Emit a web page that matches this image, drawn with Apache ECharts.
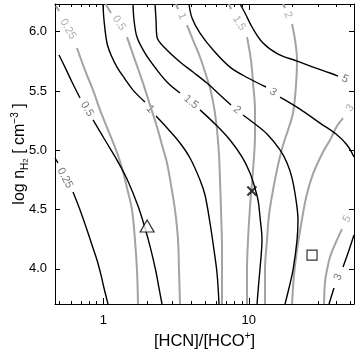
<!DOCTYPE html>
<html><head><meta charset="utf-8">
<script src="https://cdn.jsdelivr.net/npm/echarts@6/dist/echarts.min.js"></script>
<style>html,body{margin:0;padding:0;background:#fff}#c{width:360px;height:360px}</style>
</head><body><div id="c"></div>
<script>
const xRange = [0.4656, 52.84];
const yRange = [3.704, 6.234];
const xMajorTicks = [1, 10];
const xMinorTicks = [0.5,0.6,0.7,0.8,0.9,2,3,4,5,6,7,8,9,20,30,40,50];
const yTicks = [4.0, 4.5, 5.0, 5.5, 6.0];

// black contours (null = gap for label)
const black025 = [[0.466,4.935],[0.488,4.893],null,[0.619,4.648],[0.692,4.497],[0.773,4.328],[0.836,4.202],[0.905,4.075],[0.964,3.949],[1.011,3.839],[1.077,3.704]];
const black05 = [[0.496,5.804],[0.545,5.702],[0.609,5.576],[0.692,5.441],null,[0.850,5.256],[1.027,5.087],[1.242,4.918],[1.455,4.758],[1.732,4.530],[1.934,4.345],[2.127,4.159],[2.303,3.974],[2.414,3.839],[2.532,3.704]];
const black1 = [[0.995,6.234],[1.011,6.099],[1.060,5.905],[1.130,5.804],[1.242,5.702],[1.410,5.601],[1.600,5.508],[1.934,5.407],null,[2.303,5.289],[2.784,5.180],[3.366,5.062],[3.944,4.935],[4.619,4.750],[5.000,4.623],[5.412,4.387],[5.766,4.159],[6.045,3.965],[6.241,3.704]];
const black15 = [[1.600,6.234],[1.626,6.099],[1.704,5.955],[1.934,5.820],[2.340,5.677],[2.784,5.567],[3.366,5.483],null,[4.619,5.341],[5.857,5.222],[7.427,5.087],[8.980,4.944],[10.19,4.809],[10.86,4.707],[11.57,4.581],[11.94,4.437],[12.32,4.244],[12.13,4.100],[11.75,3.906],[11.39,3.704]];
const black2 = [[2.267,6.234],[2.303,6.099],[2.340,5.955],[2.655,5.863],[3.366,5.745],[4.136,5.660],[5.161,5.567],[6.340,5.466],[7.546,5.382],null,[9.123,5.298],[11.03,5.222],[13.34,5.137],[16.39,5.003],[18.31,4.893],[19.82,4.766],[21.11,4.581],[21.78,4.412],[21.45,4.244],[20.13,3.991],[18.89,3.839],[17.74,3.704]];
const black3 = [[3.882,6.234],[4.071,6.116],[4.619,5.989],[5.766,5.837],[7.427,5.702],[9.874,5.610],[13.13,5.534],null,[16.39,5.449],[22.49,5.348],[30.86,5.230],[39.76,5.137],[47.32,5.045],[52.84,4.944]];
const black5 = [[8.699,6.234],[9.417,6.158],[10.52,6.040],[12.52,5.905],[15.88,5.812],[21.45,5.753],[27.63,5.702],[36.15,5.652],[41.03,5.626]];
const black3b = [[52.84,4.286],[48.07,4.134],[44.41,4.016],null,[38.51,3.839],[35.59,3.704]];

// gray contours
const gray025 = [[0.473,6.217],[0.496,6.175],null,[0.659,5.863],[0.748,5.677],[0.850,5.508],[0.949,5.341],[1.077,5.172],[1.223,5.003],[1.345,4.851],[1.455,4.682],[1.575,4.497],[1.651,4.244],[1.704,3.991],[1.732,3.704]];
const gray05 = [[1.035,6.234],[1.130,6.158],null,[1.455,5.955],[1.651,5.761],[1.875,5.567],[2.094,5.382],[2.340,5.197],[2.532,5.045],[2.741,4.893],[2.920,4.707],[3.110,4.497],[3.262,4.244],[3.313,3.991],[3.366,3.704]];
const gray1 = [[3.160,6.234],[3.262,6.191],null,[3.761,6.056],[4.136,5.930],[4.619,5.787],[5.000,5.660],[5.412,5.525],[5.766,5.365],[6.045,5.172],[6.241,4.961],[6.340,4.750],[6.441,4.497],[6.544,4.159],[6.544,3.704]];
const gray15 = [[7.311,6.234],[7.546,6.191],null,[9.719,5.955],[10.35,5.761],[10.69,5.567],[11.03,5.341],[11.03,5.129],[10.69,4.834],[10.19,4.522],[9.874,4.244],[9.719,3.991],[9.719,3.704]];
const gray2 = [[17.19,6.234],[17.74,6.200],null,[19.82,6.065],[20.78,5.930],[21.45,5.761],[21.11,5.551],[20.13,5.315],[18.60,5.172],[17.19,5.045],[15.88,4.876],[14.67,4.665],[13.77,4.455],[13.34,4.244],[12.92,3.991],[12.92,3.704]];
const gray3 = [[44.41,5.272],[40.39,5.205],[36.15,5.087],[32.36,4.986],[27.63,4.801],[24.73,4.598],[22.85,4.370],[21.45,4.159],[20.45,3.949],[19.82,3.704]];
const gray5 = [[43.71,4.336],[39.76,4.227],[36.15,4.100],[34.47,3.991],[33.40,3.890],[32.88,3.704]];

// contour labels: [x, y, text, rotation]
const blackLabels = [[0.545,4.766,'0.25',-62],[0.773,5.348,'0.5',-59],[2.094,5.348,'1',-48],[4.007,5.407,'1.5',-40],[8.296,5.340,'2',-40],[14.67,5.492,'3',-35],[45.84,5.601,'5',-25],[41.03,3.932,'3',68]];
const grayLabels = [[0.572,6.023,'0.25',-60],[1.282,6.073,'0.5',-57],[3.474,6.132,'1',-68],[8.563,6.073,'1.5',-58],[18.60,6.141,'2',-68],[49.61,5.357,'3',55],[47.32,4.421,'5',62]];

// markers
const trianglePt = [[2.0, 4.362]];
const crossPt = [[10.5, 4.657]];
const squarePt = [[27.2, 4.117]];

const FONT = 'Liberation Sans, Arial, Helvetica, sans-serif';
const BLACK = '#000', GRAY = '#a3a3a3';

function segs(arr){const out=[];let cur=[];arr.forEach(p=>{if(p===null){if(cur.length)out.push(cur);cur=[];}else cur.push(p);});if(cur.length)out.push(cur);return out;}

const contours = [
  {d:gray025,c:GRAY,w:2},{d:gray05,c:GRAY,w:2},{d:gray1,c:GRAY,w:2},{d:gray15,c:GRAY,w:2},{d:gray2,c:GRAY,w:2},{d:gray3,c:GRAY,w:2},{d:gray5,c:GRAY,w:2},
  {d:black025,c:BLACK,w:1.4},{d:black05,c:BLACK,w:1.4},{d:black1,c:BLACK,w:1.4},{d:black15,c:BLACK,w:1.4},{d:black2,c:BLACK,w:1.4},{d:black3,c:BLACK,w:1.4},{d:black5,c:BLACK,w:1.4},{d:black3b,c:BLACK,w:1.4}
];
const series = [];
contours.forEach(ct=>{segs(ct.d).forEach(s=>{series.push({type:'line',data:s,xAxisIndex:0,yAxisIndex:0,symbol:'none',showSymbol:false,smooth:0.35,silent:true,lineStyle:{color:ct.c,width:ct.w}});});});

function labelSeries(list,color){
  return {type:'scatter',xAxisIndex:0,yAxisIndex:0,symbolSize:1,silent:true,itemStyle:{color:'rgba(0,0,0,0)'},
    data:list.map(l=>({value:[l[0],l[1]],label:{show:true,formatter:l[2],rotate:l[3],position:'inside',color:color,fontSize:11,fontFamily:FONT}}))};
}
series.push(labelSeries(blackLabels,'#555'));
series.push(labelSeries(grayLabels,'#9a9a9a'));
series.push({type:'scatter',data:trianglePt,symbol:'triangle',symbolSize:[14,12],silent:true,itemStyle:{color:'#fff',borderColor:'#000',borderWidth:1.2},z:5});
series.push({type:'scatter',data:crossPt,symbol:'path://M0,0L10,10M0,10L10,0',symbolSize:9,silent:true,itemStyle:{color:'none',borderColor:'#000',borderWidth:2},z:5});
series.push({type:'scatter',data:squarePt,symbol:'rect',symbolSize:10,silent:true,itemStyle:{color:'#fff',borderColor:'#000',borderWidth:1.2},z:5});

function xAx(pos,ticks,len,showLine,showLabel,extra){
  return Object.assign({type:'log',logBase:10,position:pos,min:xRange[0],max:xRange[1],gridIndex:0,
    axisLine:{show:showLine,lineStyle:{color:'#000',width:1}},
    axisTick:{show:true,inside:true,length:len,customValues:ticks,lineStyle:{color:'#000',width:1}},
    axisLabel:{show:showLabel,customValues:ticks,color:'#000',fontSize:13,fontFamily:FONT,margin:10},
    splitLine:{show:false},minorTick:{show:false}},extra||{});
}
function yAx(pos,showLabel,extra){
  return Object.assign({type:'value',position:pos,min:yRange[0],max:yRange[1],
    axisLine:{show:true,lineStyle:{color:'#000',width:1}},
    axisTick:{show:true,inside:true,length:5,customValues:yTicks,lineStyle:{color:'#000',width:1}},
    axisLabel:{show:showLabel,customValues:yTicks,formatter:v=>v.toFixed(1),color:'#000',fontSize:13,fontFamily:FONT,margin:8},
    splitLine:{show:false}},extra||{});
}

const option = {
  animation:false,
  backgroundColor:'#fff',
  textStyle:{fontFamily:FONT},
  grid:{left:55,right:6,top:4,bottom:56,containLabel:false,outerBoundsMode:'none'},
  xAxis:[
    xAx('bottom',xMajorTicks,6,true,true,{name:'[HCN]/[HCO{sup|+}]',nameLocation:'middle',nameGap:27,nameMoveOverlap:false,
      nameTextStyle:{fontSize:16.5,color:'#000',fontFamily:FONT,lineHeight:20,rich:{sup:{fontSize:10,verticalAlign:'top',lineHeight:11,fontFamily:FONT,color:'#000'}}}}),
    xAx('bottom',xMinorTicks,3,false,false),
    xAx('top',xMajorTicks,6,true,false),
    xAx('top',xMinorTicks,3,false,false)
  ],
  yAxis:[
    yAx('left',true,{name:'log n{sub|H}{sub2|2} [ cm{sup|−3} ]',nameLocation:'middle',nameRotate:90,nameGap:25,nameMoveOverlap:false,
      nameTextStyle:{fontSize:16,color:'#000',fontFamily:FONT,lineHeight:20,rich:{
        sub:{fontSize:10,verticalAlign:'bottom',lineHeight:14,fontFamily:FONT,color:'#000'},
        sub2:{fontSize:8,verticalAlign:'bottom',lineHeight:11,fontFamily:FONT,color:'#000'},
        sup:{fontSize:10,verticalAlign:'top',lineHeight:10,fontFamily:FONT,color:'#000'}}}}),
    yAx('right',false)
  ],
  series:series
};
const chart = echarts.init(document.getElementById('c'),null,{renderer:'canvas'});
chart.setOption(option);
</script>
</body></html>
